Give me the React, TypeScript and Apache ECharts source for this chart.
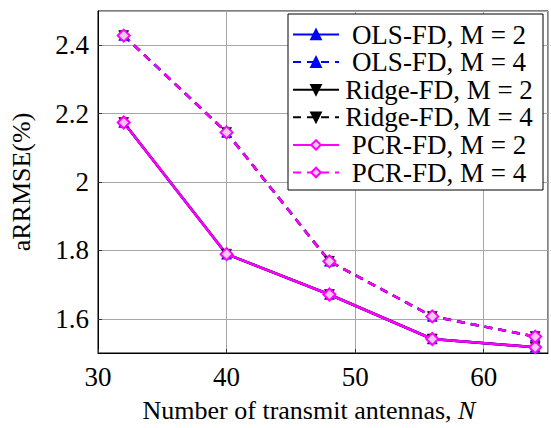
import React, { useEffect, useRef } from "react";
import * as echarts from "echarts";

const antennas = [32, 40, 48, 56, 64];
const olsM2 = [2.174, 1.789, 1.671, 1.541, 1.517];
const olsM4 = [2.428, 2.145, 1.768, 1.607, 1.548];
const ridgeM2 = [2.174, 1.789, 1.671, 1.541, 1.517];
const ridgeM4 = [2.428, 2.145, 1.768, 1.607, 1.548];
const pcrM2 = [2.174, 1.789, 1.671, 1.541, 1.517];
const pcrM4 = [2.428, 2.145, 1.768, 1.607, 1.548];

const seriesNames = [
  "OLS-FD, M = 2",
  "OLS-FD, M = 4",
  "Ridge-FD, M = 2",
  "Ridge-FD, M = 4",
  "PCR-FD, M = 2",
  "PCR-FD, M = 4",
];

const FONT = "'Liberation Serif', 'Times New Roman', serif";

export default function App() {
  const ref = useRef<HTMLDivElement>(null);
  useEffect(() => {
    if (!ref.current) return;
    const chart = echarts.init(ref.current, undefined, { renderer: "svg" });
    const mk = (
      name: string,
      data: number[],
      color: string,
      dashed: boolean,
      symbol: string,
      rotate: number,
      fill: string
    ) => ({
      name,
      type: "line",
      data: antennas.map((x, i) => [x, data[i]]),
      symbol,
      symbolSize: symbol === "diamond" ? 12 : 10,
      symbolRotate: rotate,
      showAllSymbol: true,
      lineStyle: { color, width: 2.5, type: dashed ? [8, 6] : "solid" },
      itemStyle: { color: fill, borderColor: color, borderWidth: symbol === "diamond" ? 2 : 0.5 },
      emphasis: { disabled: true },
    });
    chart.setOption({
      animation: false,
      backgroundColor: "#ffffff",
      grid: {
        left: 98,
        top: 11,
        right: 3,
        bottom: 69,
        show: true,
        borderColor: "#000",
        borderWidth: 1,
        backgroundColor: "transparent",
      },
      legend: {
        orient: "vertical",
        left: 288,
        top: 14,
        padding: [7, 9, 4, 4],
        itemWidth: 46,
        itemHeight: 12,
        itemGap: 0.6,
        borderColor: "#000",
        borderWidth: 1,
        backgroundColor: "#fff",
        data: seriesNames,
        formatter: (name: string) => `{t|${name}}`,
        textStyle: {
          fontFamily: FONT,
          fontSize: 27,
          lineHeight: 24,
          color: "#000",
          rich: {
            t: { width: 190, height: 24, align: "center", fontFamily: FONT, fontSize: 27, lineHeight: 24, color: "#000" },
          },
        },
      },
      xAxis: {
        type: "value",
        min: 30,
        max: 65,
        interval: 10,
        name: "Number of transmit antennas, {i|N}",
        nameLocation: "middle",
        nameGap: 44,
        nameTextStyle: {
          fontFamily: FONT,
          fontSize: 26,
          color: "#000",
          padding: [0, 28, 0, 0],
          rich: { i: { fontFamily: FONT, fontSize: 26, fontStyle: "italic", color: "#000" } },
        },
        axisLine: { show: true, lineStyle: { color: "#000", width: 1 } },
        axisTick: { show: true, inside: true, length: 4, lineStyle: { color: "#333" } },
        axisLabel: { showMaxLabel: false, fontFamily: FONT, fontSize: 27, color: "#000", margin: 10 },
        splitLine: { show: true, lineStyle: { color: "#a6a6a6", width: 1 } },
      },
      yAxis: {
        type: "value",
        min: 1.5,
        max: 2.5,
        splitNumber: 5,
        name: "aRRMSE(%)",
        nameLocation: "middle",
        nameGap: 64,
        nameTextStyle: { fontFamily: FONT, fontSize: 26, color: "#000" },
        axisLine: { show: true, lineStyle: { color: "#000", width: 1 } },
        axisTick: { show: true, inside: true, length: 4, lineStyle: { color: "#333" } },
        axisLabel: { showMinLabel: false, showMaxLabel: false, fontFamily: FONT, fontSize: 27, color: "#000", margin: 9 },
        splitLine: { show: true, lineStyle: { color: "#a6a6a6", width: 1 } },
      },
      series: [
        mk(seriesNames[0], olsM2, "#0000ff", false, "triangle", 0, "#0000ff"),
        mk(seriesNames[1], olsM4, "#0000ff", true, "triangle", 0, "#0000ff"),
        mk(seriesNames[2], ridgeM2, "#000000", false, "triangle", 180, "#000000"),
        mk(seriesNames[3], ridgeM4, "#000000", true, "triangle", 180, "#000000"),
        mk(seriesNames[4], pcrM2, "#ff00ff", false, "diamond", 0, "#f4c6f4"),
        mk(seriesNames[5], pcrM4, "#ff00ff", true, "diamond", 0, "#f4c6f4"),
      ],
    });
    return () => chart.dispose();
  }, []);
  return (
    <div
      ref={ref}
      style={{ position: "fixed", left: 0, top: 0, width: 551, height: 428, background: "#fff" }}
    />
  );
}
